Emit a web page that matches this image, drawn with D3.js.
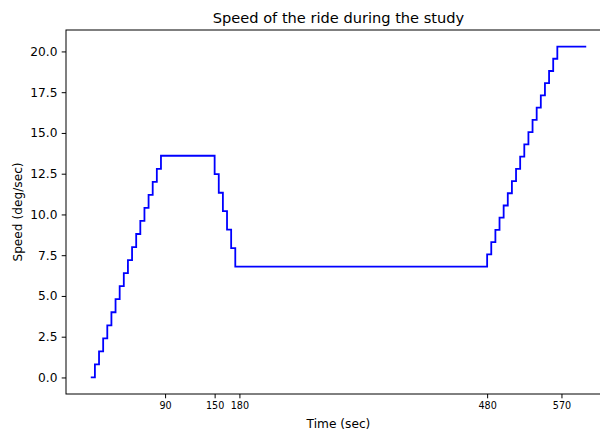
<!DOCTYPE html>
<html>
<head>
<meta charset="utf-8">
<script src="https://cdn.jsdelivr.net/npm/d3@7"></script>
<style>
    body { margin: 0; background: #fff; }
    svg { display: block; font-family: "DejaVu Sans", sans-serif; }
</style>
</head>
<body>
<div id="chart"></div>
<script>
// step breakpoints: time (sec) where speed changes, and the speed held from then on
const times = [
    0, 5, 10, 15, 20, 25, 30, 35, 40, 45, 50, 55, 60, 65, 70, 75, 80, 85,
    150, 155, 160, 165, 170, 175,
    480, 485, 490, 495, 500, 505, 510, 515, 520, 525, 530, 535, 540, 545, 550, 555, 560, 565,
    600
];
const speeds = [
    0, 0.8, 1.6, 2.4, 3.2, 4.0, 4.8, 5.6, 6.4, 7.2, 8.0, 8.8, 9.6, 10.4, 11.2, 12.0, 12.8, 13.6,
    12.47, 11.33, 10.2, 9.07, 7.93, 6.8,
    7.55, 8.3, 9.05, 9.8, 10.55, 11.3, 12.05, 12.8, 13.55, 14.3, 15.05, 15.8, 16.55, 17.3, 18.05, 18.8, 19.55, 20.3,
    20.3
];
const xTicks = [90, 150, 180, 480, 570];
const yTicks = [0, 2.5, 5, 7.5, 10, 12.5, 15, 17.5, 20];

const width = 600, height = 430;
const margin = {top: 30, right: -11, bottom: 36, left: 66};
const innerW = width - margin.left - margin.right;
const innerH = height - margin.top - margin.bottom;

const data = times.map((t, i) => ({t: t, v: speeds[i]}));

// matplotlib-like 5% padding
const xPad = (600 - 0) * 0.05;
const yMax = d3.max(speeds);
const yPad = yMax * 0.05;

const xSc = d3.scaleLinear().domain([0 - xPad, 600 + xPad]).range([0, innerW]);
const ySc = d3.scaleLinear().domain([0 - yPad, yMax + yPad]).range([innerH, 0]);

const svg = d3.select("#chart").append("svg")
    .attr("width", width)
    .attr("height", height);

const g = svg.append("g")
    .attr("transform", "translate(" + margin.left + "," + margin.top + ")");

// frame
g.append("rect")
    .attr("x", 0).attr("y", 0)
    .attr("width", innerW).attr("height", innerH)
    .attr("fill", "none")
    .attr("stroke", "#000")
    .attr("stroke-width", 1);

const line = d3.line()
    .x(d => xSc(d.t))
    .y(d => ySc(d.v))
    .curve(d3.curveStepAfter);

g.append("path")
    .datum(data)
    .attr("fill", "none")
    .attr("stroke", "#0000ff")
    .attr("stroke-width", 1.8)
    .attr("d", line);

// x axis
const xAxis = g.append("g")
    .attr("transform", "translate(0," + innerH + ")")
    .call(d3.axisBottom(xSc).tickValues(xTicks).tickSize(4.3).tickPadding(4))
    .style("font-size", "9.6px");
xAxis.select(".domain").remove();

// y axis
const yAxis = g.append("g")
    .call(d3.axisLeft(ySc).tickValues(yTicks).tickSize(4.3).tickPadding(4.2).tickFormat(d3.format(".1f")))
    .style("font-size", "12.2px");
yAxis.select(".domain").remove();

g.selectAll(".tick text").attr("fill", "#000").style("font-family", "DejaVu Sans");
g.selectAll(".tick line").attr("stroke", "#000");

// labels
svg.append("text")
    .attr("x", margin.left + innerW / 2)
    .attr("y", 22.5)
    .attr("text-anchor", "middle")
    .style("font-size", "14.6px")
    .text("Speed of the ride during the study");

svg.append("text")
    .attr("x", margin.left + innerW / 2)
    .attr("y", 428)
    .attr("text-anchor", "middle")
    .style("font-size", "12.2px")
    .text("Time (sec)");

svg.append("text")
    .attr("transform", "translate(21.5," + (margin.top + innerH / 2) + ") rotate(-90)")
    .attr("text-anchor", "middle")
    .style("font-size", "12.2px")
    .text("Speed (deg/sec)");
</script>
</body>
</html>
